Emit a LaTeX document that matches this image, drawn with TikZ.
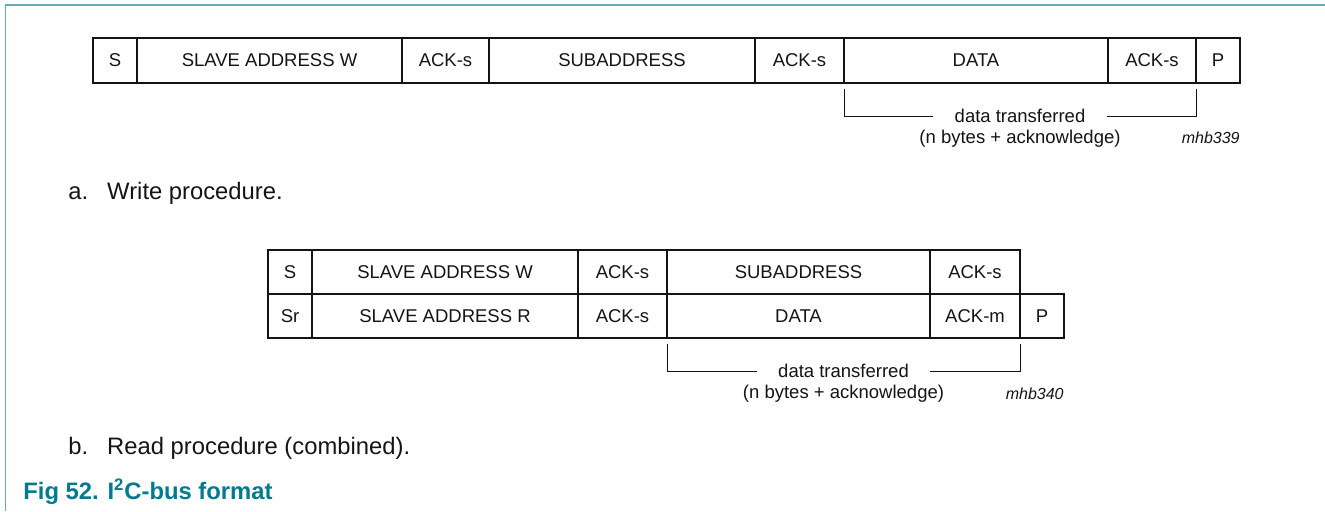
\documentclass[tikz,border=0pt]{standalone}
\usepackage{fontspec}
\setmainfont{Liberation Sans}
\usepackage{xcolor}
\usepackage{tikz}
\usetikzlibrary{positioning}
\definecolor{NXPFrame}{RGB}{100,170,187}
\definecolor{NXPTeal}{RGB}{0,122,143}
\definecolor{NXPDark}{RGB}{20,20,20}

\begin{document}
\begin{tikzpicture}[x=0.5pt,y=-0.5pt,
        cell/.style={draw=NXPDark,line width=0.6pt,inner sep=0pt,outer sep=0pt,
                     minimum height=#1,font=\fontsize{9.25}{11}\selectfont,
                     text=NXPDark,align=center},
        cell/.default=22pt,
        brk/.style={draw=NXPDark,line width=0.5pt},
        lbl/.style={font=\fontsize{9.25}{11}\selectfont,text=NXPDark,
                    inner xsep=10.5pt,inner ysep=0pt},
        tag/.style={font=\fontsize{8}{10}\selectfont\itshape,text=NXPDark,inner sep=0pt},
        captext/.style={font=\fontsize{11.9}{14}\selectfont,text=NXPDark,inner sep=0pt,anchor=west}
      ]
        \useasboundingbox (0,0) rectangle (1325,511);
        \draw[NXPFrame,line width=0.8pt] (5.5,511) -- (5.5,5) -- (1325,5);

        \node[cell=22.5pt,minimum width=22pt,anchor=north west] (S1) at (93,38) {S};
        \node[cell=22.5pt,minimum width=132.5pt,right=0pt of S1] (A1) {SLAVE ADDRESS W};
        \node[cell=22.5pt,minimum width=43.5pt,right=0pt of A1] (K1) {ACK-s};
        \node[cell=22.5pt,minimum width=133pt,right=0pt of K1] (B1) {SUBADDRESS};
        \node[cell=22.5pt,minimum width=44.5pt,right=0pt of B1] (K2) {ACK-s};
        \node[cell=22.5pt,minimum width=132pt,right=0pt of K2] (D1) {DATA};
        \node[cell=22.5pt,minimum width=44pt,right=0pt of D1] (K3) {ACK-s};
        \node[cell=22.5pt,minimum width=22pt,right=0pt of K3] (P1) {P};

        \node[lbl] (dt1) at (1020,116) {data transferred};
        \node[lbl] (nb1) at (1020,139) {(n bytes + acknowledge)};
        \draw[brk] ([yshift=-3pt]D1.south west) |- (dt1.west);
        \draw[brk] ([yshift=-3pt]K3.south east) |- (dt1.east);
        \node[tag,anchor=east] (tg1) at (1240,138) {mhb339};

        \node[captext] (capa) at (68,193) {a.\hspace{9.5pt}Write procedure.};

        \node[cell,minimum width=22pt,anchor=north west] (S2) at (268,250) {S};
        \node[cell,minimum width=133pt,right=0pt of S2] (A2) {SLAVE ADDRESS W};
        \node[cell,minimum width=44.5pt,right=0pt of A2] (K4) {ACK-s};
        \node[cell,minimum width=131.5pt,right=0pt of K4] (B2) {SUBADDRESS};
        \node[cell,minimum width=45pt,right=0pt of B2] (K5) {ACK-s};
        \node[cell,minimum width=22pt,below=0pt of S2] (S3) {Sr};
        \node[cell,minimum width=133pt,right=0pt of S3] (A3) {SLAVE ADDRESS R};
        \node[cell,minimum width=44.5pt,right=0pt of A3] (K6) {ACK-s};
        \node[cell,minimum width=131.5pt,right=0pt of K6] (D2) {DATA};
        \node[cell,minimum width=45pt,right=0pt of D2] (K7) {ACK-m};
        \node[cell,minimum width=22pt,right=0pt of K7] (P2) {P};

        \node[lbl] (dt2) at (843.5,371) {data transferred};
        \node[lbl] (nb2) at (843.5,394) {(n bytes + acknowledge)};
        \draw[brk] ([yshift=-3pt]D2.south west) |- (dt2.west);
        \draw[brk] ([yshift=-3pt]K7.south east) |- (dt2.east);
        \node[tag,anchor=east] (tg2) at (1064,394) {mhb340};

        \node[captext] (capb) at (68,448) {b.\hspace{9.5pt}Read procedure (combined).};
        \node[captext,text=NXPTeal,font=\fontsize{11.9}{14}\selectfont\bfseries] (fig) at (23,492)
              {Fig 52. I\textsuperscript{2}C-bus format};
      \end{tikzpicture}
\end{document}
